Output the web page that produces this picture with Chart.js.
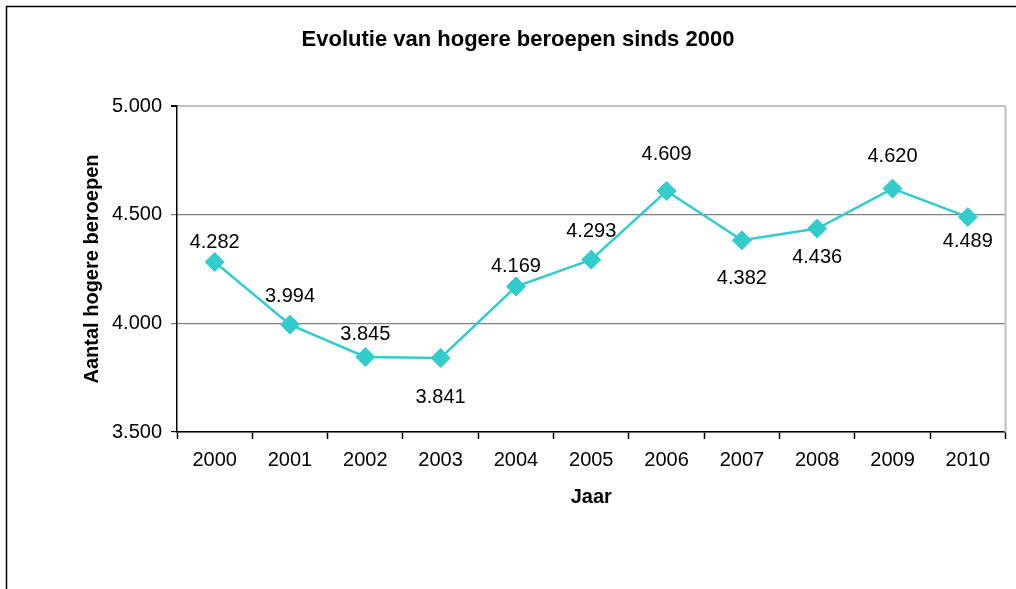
<!DOCTYPE html>
<html>
<head>
<meta charset="utf-8">
<script src="https://cdn.jsdelivr.net/npm/chart.js@4/dist/chart.umd.min.js"></script>
<style>
  html, body { margin: 0; padding: 0; background: #fff; overflow: hidden; }
  #wrap { width: 1016px; height: 589px; }
</style>
</head>
<body>
<div id="wrap"><canvas id="myChart" width="1016" height="589"></canvas></div>
<script>
// data
var years = ['2000', '2001', '2002', '2003', '2004', '2005', '2006', '2007', '2008', '2009', '2010'];
var beroepen = [4282, 3994, 3845, 3841, 4169, 4293, 4609, 4382, 4436, 4620, 4489];
var yTicks = [3500, 4000, 4500, 5000];

// where each value label sits relative to its point (px, negative = above)
var labelOffset = [-20, -28, -23, 40, -20, -28, -36, 38, 29, -32, 24];

var lineColor = '#33CCCC';
var fontName = '"Liberation Sans", Arial, sans-serif';

// 4282 -> "4.282"
function fmt(v) {
    var s = String(Math.round(v));
    return s.replace(/\B(?=(\d{3})+(?!\d))/g, '.');
}

var frame = {
    id: 'frame',
    beforeDraw: function(chart) {
        var ctx = chart.ctx;
        ctx.save();
        ctx.fillStyle = '#fff';
        ctx.fillRect(0, 0, chart.width, chart.height);
        ctx.strokeStyle = '#000';
        ctx.lineWidth = 1.5;
        ctx.strokeRect(6.5, 6.5, 2000, 2000);
        ctx.restore();
    },
    afterDraw: function(chart) {
        var ctx = chart.ctx;
        var a = chart.chartArea;
        ctx.save();
        ctx.strokeStyle = '#c0c0c0';
        ctx.lineWidth = 2;
        ctx.beginPath();
        ctx.moveTo(a.right, a.top);
        ctx.lineTo(a.right, a.bottom);
        ctx.stroke();
        ctx.restore();
    }
};

var valueLabels = {
    id: 'valueLabels',
    afterDatasetsDraw: function(chart) {
        var ctx = chart.ctx;
        var meta = chart.getDatasetMeta(0);
        ctx.save();
        ctx.font = '20px ' + fontName;
        ctx.fillStyle = '#000';
        ctx.textAlign = 'center';
        ctx.textBaseline = 'middle';
        meta.data.forEach(function(pt, i) {
            ctx.fillText(fmt(beroepen[i]), pt.x, pt.y + labelOffset[i]);
        });
        ctx.restore();
    }
};

var ctx = document.getElementById('myChart').getContext('2d');
var myChart = new Chart(ctx, {
    type: 'line',
    data: {
        labels: years,
        datasets: [{
            label: 'Aantal hogere beroepen',
            data: beroepen,
            borderColor: lineColor,
            backgroundColor: lineColor,
            borderWidth: 2.5,
            pointStyle: 'rectRot',
            pointRadius: 9.5,
            pointHoverRadius: 9.5,
            pointBackgroundColor: lineColor,
            pointBorderColor: lineColor,
            pointBorderWidth: 1,
            tension: 0,
            fill: false
        }]
    },
    options: {
        responsive: false,
        animation: false,
        events: [],
        layout: {
            padding: { left: 26, right: 6, top: 0, bottom: 0 }
        },
        plugins: {
            legend: { display: false },
            tooltip: { enabled: false },
            title: {
                display: true,
                text: 'Evolutie van hogere beroepen sinds 2000',
                color: '#000',
                font: { family: fontName, size: 22, weight: 'bold', lineHeight: 1.2 },
                padding: { top: 26.8, bottom: 52.8 }
            }
        },
        scales: {
            x: {
                offset: true,
                grid: {
                    offset: true,
                    drawOnChartArea: false,
                    drawTicks: true,
                    tickLength: 7,
                    tickColor: '#000',
                    tickWidth: 1.5
                },
                border: { display: true, color: '#000', width: 1.5 },
                ticks: {
                    color: '#000',
                    padding: 9,
                    maxRotation: 0,
                    font: { family: fontName, size: 20 }
                },
                title: {
                    display: true,
                    text: 'Jaar',
                    color: '#000',
                    font: { family: fontName, size: 20, weight: 'bold', lineHeight: 1.2 },
                    padding: { top: 0, bottom: 80 }
                },
                afterFit: function(scale) {
                    scale.height = 157;
                }
            },
            y: {
                min: 3500,
                max: 5000,
                afterBuildTicks: function(scale) {
                    scale.ticks = yTicks.map(function(v) { return { value: v }; });
                },
                grid: {
                    color: function(c) {
                        if (c.tick && c.tick.value === 5000) return '#c0c0c0';
                        return '#808080';
                    },
                    lineWidth: function(c) {
                        if (c.tick && c.tick.value === 5000) return 2;
                        return 1.2;
                    },
                    tickColor: function(c) {
                        if (c.tick && (c.tick.value === 5000 || c.tick.value === 3500)) return '#000';
                        return '#808080';
                    },
                    drawTicks: true,
                    tickLength: 6
                },
                border: { display: true, color: '#000', width: 1.5 },
                ticks: {
                    color: '#000',
                    padding: 9,
                    font: { family: fontName, size: 20 },
                    callback: function(v) { return fmt(v); }
                },
                title: {
                    display: true,
                    text: 'Aantal hogere beroepen',
                    color: '#000',
                    font: { family: fontName, size: 20, weight: 'bold', lineHeight: 1.2 },
                    padding: { top: 54, bottom: 0 }
                },
                afterFit: function(scale) {
                    scale.width = 151;
                }
            }
        }
    },
    plugins: [frame, valueLabels]
});
</script>
</body>
</html>
